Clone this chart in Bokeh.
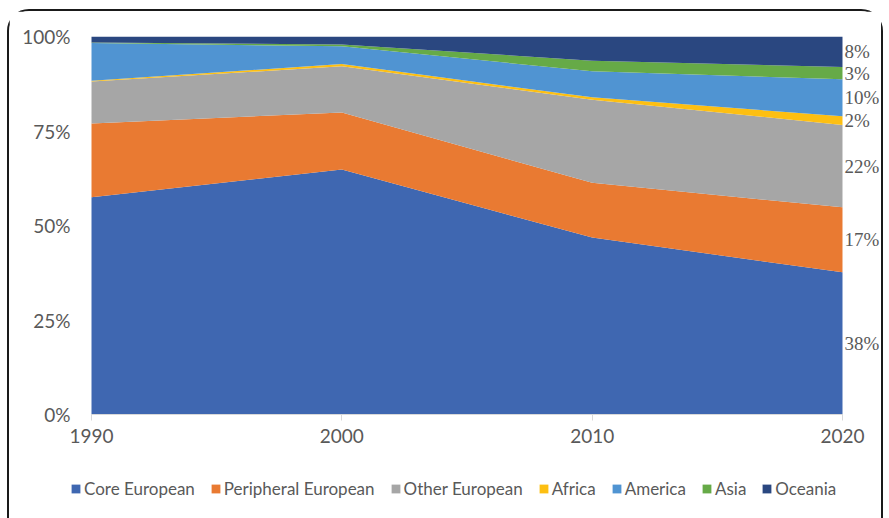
import numpy as np
from bokeh.plotting import figure
from bokeh.models import (ColumnDataSource, Range1d, FixedTicker, Legend, LegendItem,
                          LabelSet, NumeralTickFormatter)
from bokeh.embed import file_html
from bokeh.resources import INLINE

years = [1990, 2000, 2010, 2020]
core_european = [57.5, 64.8, 46.8, 37.6]
peripheral_european = [19.5, 15.1, 14.5, 17.2]
other_european = [11.1, 12.2, 22.0, 21.8]
africa = [0.2, 0.6, 0.6, 2.3]
america = [10.0, 4.7, 6.9, 9.8]
asia = [0.1, 0.5, 2.8, 3.2]
oceania = [1.6, 2.1, 6.4, 8.1]

series_names = ["Core European", "Peripheral European", "Other European",
                "Africa", "America", "Asia", "Oceania"]
series_values = [core_european, peripheral_european, other_european,
                 africa, america, asia, oceania]
colors = ["#3F67B1", "#E97A32", "#A6A6A6", "#FDBF12", "#5094D2", "#66AA47", "#2A4780"]
y_ticks = [0, 25, 50, 75, 100]

keys = ["s%d" % i for i in range(len(series_names))]
data = {"year": years}
for k, v in zip(keys, series_values):
    data[k] = v
source = ColumnDataSource(data)

FONT = "Lato"
TXT = "#595959"

# layout geometry (pixels): the frame is widened beyond 1990/2020 and extended
# below 0 % so that the x labels, data labels and legend all sit inside it
PX_PER_YEAR = 751 / 30.0
PX_PER_PCT = 378 / 100.0
x_start = years[0] - 21 / PX_PER_YEAR
x_end = years[-1] + 42 / PX_PER_YEAR
y_start = -(501 - 414) / PX_PER_PCT

p = figure(width=876, height=540, output_backend="svg", toolbar_location=None,
           x_range=Range1d(x_start, x_end), y_range=Range1d(y_start, 100),
           min_border_left=61, min_border_right=1, min_border_top=25,
           min_border_bottom=50)
p.styles = {"border": "2px solid #1a1a1a", "border-radius": "22px",
            "margin-left": "7px", "margin-top": "9px"}
p.background_fill_color = "white"
p.border_fill_color = "white"
p.outline_line_color = None
p.grid.visible = False

renderers = p.varea_stack(stackers=keys, x="year", color=colors, source=source)

# x axis drawn at 0 %
p.xaxis.fixed_location = 0
p.xaxis.bounds = (years[0], years[-1])
p.xaxis.ticker = FixedTicker(ticks=years)
p.xaxis.axis_line_color = "#D9D9D9"
p.xaxis.major_tick_line_color = "#D9D9D9"
p.xaxis.major_tick_in = 0
p.xaxis.major_tick_out = 6
p.xaxis.minor_tick_line_color = None
p.xaxis.major_label_standoff = 8
p.xaxis.major_label_text_font = FONT
p.xaxis.major_label_text_font_size = "19px"
p.xaxis.major_label_text_color = TXT

# y axis in the left panel
p.yaxis.bounds = (0, 100)
p.yaxis.ticker = FixedTicker(ticks=y_ticks)
p.yaxis.formatter = NumeralTickFormatter(format="0")
p.yaxis.major_label_overrides = {t: "%d%%" % t for t in y_ticks}
p.yaxis.axis_line_color = None
p.yaxis.major_tick_line_color = None
p.yaxis.minor_tick_line_color = None
p.yaxis.major_tick_in = 0
p.yaxis.major_tick_out = 0
p.yaxis.major_label_standoff = 0
p.yaxis.major_label_text_font = FONT
p.yaxis.major_label_text_font_size = "19px"
p.yaxis.major_label_text_color = TXT

# data labels for 2020 at the band centres
last = np.array([v[-1] for v in series_values])
tops = np.cumsum(last)
mids = tops - last / 2.0
lab_src = ColumnDataSource(dict(x=[years[-1]] * len(last), y=list(mids),
                                t=["%d%%" % round(v) for v in last]))
labels = LabelSet(x="x", y="y", text="t", source=lab_src, x_offset=2,
                  text_align="left", text_baseline="middle",
                  text_font=FONT, text_font_size="19px", text_color=TXT)
p.add_layout(labels)

# legend inside the (extended) frame, under the x-axis labels
items = [LegendItem(label=n, renderers=[r]) for n, r in zip(series_names, renderers)]
legend = Legend(items=items, orientation="horizontal", location=(0, 2),
                label_text_font=FONT, label_text_font_size="17px",
                label_text_color=TXT, glyph_width=11, glyph_height=11,
                spacing=15, label_standoff=3, padding=0, margin=0,
                border_line_color=None, background_fill_alpha=0)
p.add_layout(legend)

open("out.html", "w").write(file_html(p, INLINE))
